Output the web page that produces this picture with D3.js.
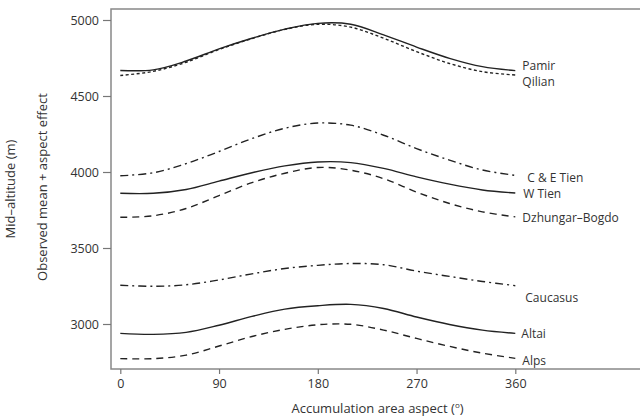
<!DOCTYPE html>
<html>
<head>
<meta charset="utf-8">
<script src="https://cdn.jsdelivr.net/npm/d3@7"></script>
<style>
  html, body { margin: 0; padding: 0; background: #fff; }
  svg text { font-family: "Open Sans", "Noto Sans", sans-serif; fill: #333; }
</style>
</head>
<body>
<svg id="chart" width="640" height="419"></svg>
<script>
// ---- data ----
const aspects = [0, 30, 60, 90, 120, 150, 180, 210, 240, 270, 300, 330, 360];
const regions = ["Pamir", "Qilian", "C & E Tien", "W Tien", "Dzhungar\u2013Bogdo", "Caucasus", "Altai", "Alps"];
const pamir     = [4668, 4672, 4730, 4810, 4880, 4940, 4978, 4972, 4902, 4822, 4748, 4693, 4667];
const qilian    = [4635, 4662, 4722, 4806, 4878, 4938, 4972, 4953, 4880, 4792, 4714, 4660, 4638];
const ceTien    = [3975, 3995, 4055, 4135, 4220, 4288, 4322, 4308, 4242, 4154, 4078, 4013, 3978];
const wTien     = [3860, 3860, 3885, 3940, 3995, 4040, 4066, 4062, 4024, 3968, 3920, 3882, 3862];
const dzhungar  = [3702, 3712, 3760, 3845, 3930, 3992, 4030, 4012, 3956, 3868, 3793, 3738, 3705];
const caucasus  = [3255, 3248, 3258, 3290, 3330, 3365, 3386, 3398, 3390, 3348, 3313, 3280, 3252];
const altai     = [2938, 2932, 2945, 2992, 3050, 3098, 3120, 3129, 3102, 3046, 2997, 2960, 2938];
const alps      = [2772, 2772, 2795, 2855, 2918, 2965, 2995, 2998, 2960, 2905, 2853, 2808, 2774];
const seriesValues = [pamir, qilian, ceTien, wTien, dzhungar, caucasus, altai, alps];
const xTicks = [0, 90, 180, 270, 360];
const yTicks = [3000, 3500, 4000, 4500, 5000];

// ---- styles / layout ----
const dashes = ["none", "3,2.5", "8,4,2,4", "none", "7,5", "8,4,2,4", "none", "7,5"];
const labelDy = [-5, 7, 2, 1, 1, 12, 0, 2];
const labelDx = [7, 7, 12, 8, 7, 10, 6, 7];

const svg = d3.select("#chart");
const box = { left: 111, top: 9, right: 646, bottom: 369 };

const x = d3.scaleLinear().domain([0, 360]).range([120.3, 515.3]);
const y = d3.scaleLinear().domain([3000, 5000]).range([324, 20]);

// plot box
svg.append("rect")
  .attr("x", box.left).attr("y", box.top)
  .attr("width", box.right - box.left).attr("height", box.bottom - box.top)
  .attr("fill", "none").attr("stroke", "#888").attr("stroke-width", 1.5);

// y axis
const yAxis = svg.append("g")
  .attr("transform", `translate(${box.left},0)`)
  .call(d3.axisLeft(y).tickValues(yTicks).tickSize(8).tickPadding(4).tickFormat(d3.format("d")));
yAxis.select(".domain").remove();
yAxis.selectAll(".tick line").attr("stroke", "#777").attr("stroke-width", 1.2);
yAxis.selectAll(".tick text").attr("font-size", 12.5).style("fill", "#333");

// x axis
const xAxis = svg.append("g")
  .attr("transform", `translate(0,${box.bottom})`)
  .call(d3.axisBottom(x).tickValues(xTicks).tickSize(5).tickPadding(5).tickFormat(d3.format("d")));
xAxis.select(".domain").remove();
xAxis.selectAll(".tick line").attr("stroke", "#777").attr("stroke-width", 1.2);
xAxis.selectAll(".tick text").attr("font-size", 12.5).style("fill", "#333");

// lines
const line = d3.line()
  .x((d, i) => x(aspects[i]))
  .y(d => y(d))
  .curve(d3.curveCatmullRom.alpha(0.5));

seriesValues.forEach((vals, k) => {
  svg.append("path")
    .attr("d", line(vals))
    .attr("fill", "none")
    .attr("stroke", "#222")
    .attr("stroke-width", 1.4)
    .attr("stroke-dasharray", dashes[k]);
  svg.append("text")
    .attr("x", x(360) + labelDx[k])
    .attr("y", y(vals[vals.length - 1]) + labelDy[k])
    .attr("dy", "0.35em")
    .attr("font-size", 12)
    .text(regions[k]);
});

// axis titles
const xt = svg.append("text")
  .attr("x", (box.left + 640) / 2 + 2)
  .attr("y", 413)
  .attr("text-anchor", "middle")
  .attr("font-size", 13);
xt.append("tspan").text("Accumulation area aspect (");
xt.append("tspan").attr("font-size", 8).attr("dy", -5).text("o");
xt.append("tspan").attr("dy", 5).text(")");

const cy = (box.top + box.bottom) / 2;
svg.append("text")
  .attr("transform", `translate(15,${cy}) rotate(-90)`)
  .attr("text-anchor", "middle")
  .attr("font-size", 13)
  .text("Mid\u2013altitude (m)");
svg.append("text")
  .attr("transform", `translate(47,${cy - 2}) rotate(-90)`)
  .attr("text-anchor", "middle")
  .attr("font-size", 13)
  .text("Observed mean + aspect effect");
</script>
</body>
</html>
